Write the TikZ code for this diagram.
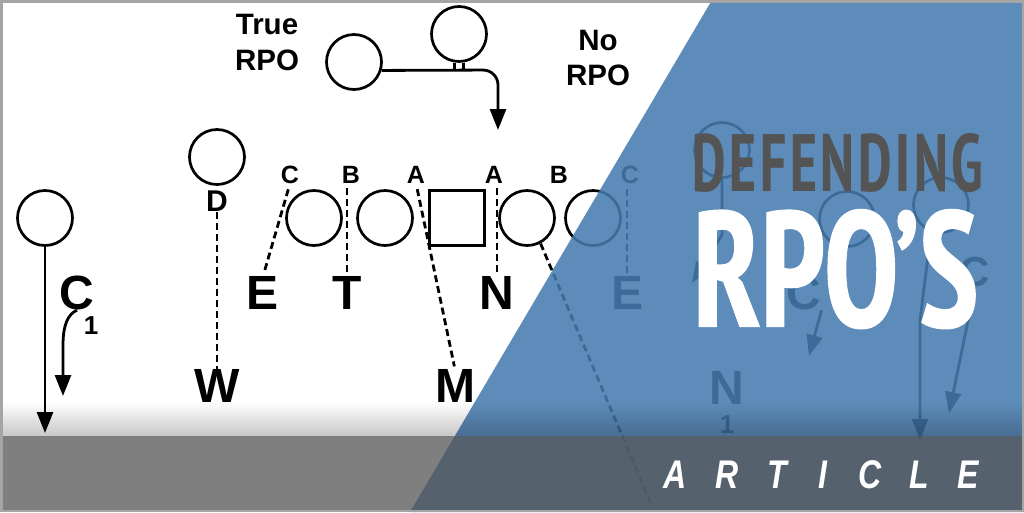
\documentclass[tikz,border=0pt]{standalone}
\usepackage{fontspec}
\setmainfont{Liberation Sans}
\newfontfamily\titlefont{PT Sans Narrow}[BoldFeatures={FakeBold=0.8}]
\newfontfamily\subtitlefont{PT Sans Narrow}[LetterSpace=6]
\usetikzlibrary{arrows.meta,fadings}
\tikzfading[name=shadowfade, top color=transparent!100, bottom color=transparent!0]
\definecolor{overblue}{RGB}{70,124,176}
\definecolor{bargray}{RGB}{83,83,83}
\definecolor{titlegray}{RGB}{84,84,84}
\definecolor{framegray}{RGB}{165,165,165}
\tikzset{
  player/.style={circle, draw=black, line width=2.7pt, minimum size=55pt, inner sep=0pt},
  lineman/.style={rectangle, draw=black, line width=2.7pt, minimum size=55pt, inner sep=0pt},
  biglet/.style={inner sep=0pt, font=\bfseries\fontsize{48pt}{48pt}\selectfont},
  midlet/.style={inner sep=0pt, font=\bfseries\fontsize{42pt}{42pt}\selectfont},
  gaplet/.style={inner sep=0pt, font=\bfseries\fontsize{25pt}{25pt}\selectfont},
  dlet/.style={inner sep=0pt, font=\bfseries\fontsize{30pt}{30pt}\selectfont},
  toplab/.style={inner sep=0pt, font=\bfseries\fontsize{29.5pt}{29.5pt}\selectfont},
  sublet/.style={inner sep=0pt, font=\bfseries\fontsize{26pt}{26pt}\selectfont},
  route/.style={draw=black, line width=2.8pt},
  dashl/.style={draw=black, line width=2.8pt, dash pattern=on 7pt off 4pt},
  tip/.style={-{Triangle[length=21pt,width=16pt]}},
  artlet/.style={inner sep=0pt, anchor=base, text=white, font=\bfseries\itshape\fontsize{40pt}{40pt}\selectfont},
}
\begin{document}
\begin{tikzpicture}[x=1pt,y=-1pt]
\useasboundingbox (0,0) rectangle (1024,512);
\fill[white] (0,0) rectangle (1024,512);

% ---------- top: true / no RPO ----------
\node[toplab] (true) at (267,24) {True};
\node[toplab] (rpo1) at (267,60) {RPO};
\node[toplab] (no) at (598,40) {No};
\node[toplab] (rpo2) at (598,75) {RPO};
\node[player] (rb) at (354,62) {};
\node[player] (qb) at (459,34) {};
\coordinate (qbtip) at (498,130);
\draw[route, tip, rounded corners=15pt] (rb.-17) -- (498,70) -- (qbtip);
\draw[line width=2.2pt] ([xshift=-4.5pt]qb.south) -- ++(0,8.5);
\draw[line width=2.2pt] ([xshift=4.5pt]qb.south) -- ++(0,8.5);

% ---------- left ----------
\node[player] (cp) at (45,218) {};
\coordinate (ctip) at (45,433);
\draw[route, tip] (cp.south) -- (ctip);
\node[biglet] (c) at (77,293) {C};
\node[sublet] (c1) at (91,326) {1};
\coordinate (ctip2) at (63,396);
\draw[route, tip] (c.south) .. controls (68,314) and (63,325) .. (63,345) -- (ctip2);

\node[player] (d) at (217,157) {};
\node[dlet] (dl) at (217,201) {D};
\node[biglet] (w) at (217,386) {W};
\draw[dashl] (dl.south) -- (w.north);

% ---------- line ----------
\node[player] (g1) at (314,218) {};
\node[player] (g2) at (385,218) {};
\node[lineman] (ce) at (457,218) {};
\node[player] (g3) at (527,218) {};
\node[player] (g4) at (593,218) {};

\node[gaplet] (gc) at (290,174.5) {C};
\node[gaplet] (gb) at (351,174.5) {B};
\node[gaplet] (ga1) at (416,174.5) {A};
\node[gaplet] (ga2) at (494,174.5) {A};
\node[gaplet] (gb2) at (559,174.5) {B};
\node[gaplet] (gc2) at (630,174.5) {C};

\node[biglet] (e) at (263,293) {E};
\node[biglet] (t) at (347,293) {T};
\node[biglet] (n) at (497,293) {N};
\node[biglet] (m) at (455,386) {M};
\node[biglet] (e2) at (627,293) {E};

\draw[dashl, shorten <=6pt, shorten >=4pt] (gc.south) -- (e.north);
\draw[dashl, shorten <=5pt, shorten >=3pt] (t.north |- gb.south) -- (t.north);
\draw[dashl, shorten <=6pt, shorten >=3pt] (ga1.south) -- (m.north);
\draw[dashl, shorten <=5pt, shorten >=3pt] (n.north |- ga2.south) -- (n.north);
\draw[dashl, shorten <=5pt, shorten >=3pt] (e2.north |- gc2.south) -- (e2.north);
\coordinate (longend) at (652,506);
\draw[dashl] (g3.-62) -- (longend);

% ---------- right (under the overlay) ----------
\node[player] (p5) at (722,150) {};
\coordinate (p5tip) at (692,283);
\draw[route, tip] (p5.south) -- (722,235) -- (p5tip);
\node[player] (p6) at (847,219) {};
\node[player] (p7) at (941,205) {};
\node[biglet] (c3) at (804,293) {C};
\coordinate (c3tip) at (809,356);
\draw[route, tip] (c3.south east) -- (c3tip);
\node[biglet] (n2) at (727,388) {N};
\node[sublet] (n21) at (727,425) {1};
\coordinate (p7tip) at (920,440);
\draw[route, tip] (p7.-110) .. controls (925,280) .. (920,320) -- (p7tip);
\node[midlet] (c4) at (975,272) {C};
\coordinate (c4tip) at (949,413);
\draw[route, tip] (c4.south) -- (c4tip);

% ---------- overlay ----------
\fill[overblue, opacity=0.87] (712,0) -- (1024,0) -- (1024,512) -- (410,512) -- cycle;
\fill[black, opacity=0.22, path fading=shadowfade] (0,402) rectangle (1024,436);
\fill[bargray, opacity=0.74] (0,436) rectangle (1024,512);
\draw[framegray, line width=2.5pt] (1.25,1.25) rectangle (1022.75,510.75);

% ---------- title ----------
\node[inner sep=0pt, anchor=south west, text=titlegray] (title1) at (692,193)
  {\resizebox{291pt}{58pt}{\subtitlefont\bfseries DEFENDING}};
\node[inner sep=0pt, anchor=south west, text=white] (title2) at (693,329)
  {\resizebox{285pt}{117pt}{\titlefont\bfseries RPO’S}};

\foreach \l/\x [count=\i] in {A/675,R/727,T/777,I/823,C/870,L/919,E/968}
  \node[artlet] (art\i) at (\x,488) {\scalebox{0.8}[1]{\l}};
\end{tikzpicture}
\end{document}
